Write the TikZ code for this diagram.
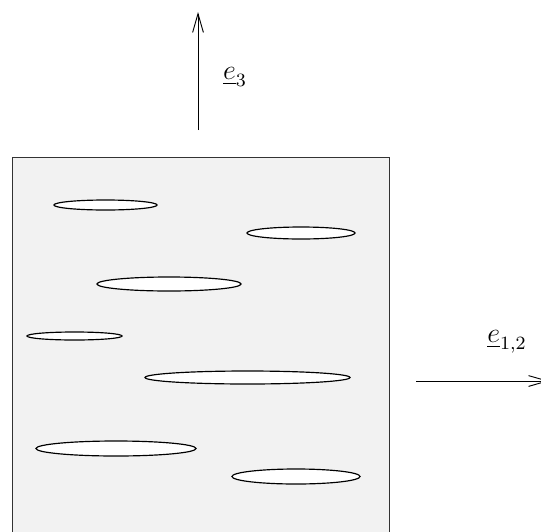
\documentclass[tikz,border=0pt]{standalone}
\usepackage{amsmath,amssymb}
\usepackage{tikz}
\usetikzlibrary{arrows.meta,shapes.geometric}

\begin{document}
\begin{tikzpicture}[
  x=0.015cm, y=-0.015cm,
  slab/.style={draw=black!80, fill=black!5, line width=0.4pt},
  pore/.style={ellipse, draw=black, fill=white, line width=0.5pt,
               inner sep=0pt},
  ar/.style={-{Straight Barb[length=8pt, width=4.6pt]}, draw=black, line width=0.4pt},
  lbl/.style={inner sep=1pt, font=\large}
]
\useasboundingbox (0,0) rectangle (541,531);
\clip (0,0) rectangle (541,531);

% specimen
\draw[slab] (12,157) rectangle (389,560);

% elongated voids
\node[pore, minimum width=1.545cm, minimum height=0.15cm] (p1) at (105.5,205) {};
\node[pore, minimum width=1.62cm, minimum height=0.18cm] (p2) at (301,233) {};
\node[pore, minimum width=2.16cm, minimum height=0.21cm] (p3) at (169,284) {};
\node[pore, minimum width=1.425cm, minimum height=0.12cm] (p4) at (74.5,336) {};
\node[pore, minimum width=3.075cm, minimum height=0.195cm] (p5) at (247.5,377.5) {};
\node[pore, minimum width=2.4cm, minimum height=0.225cm] (p6) at (116,448.5) {};
\node[pore, minimum width=1.92cm, minimum height=0.225cm] (p7) at (296,476.5) {};

% axes
\coordinate (e3a) at (198,130);
\coordinate (e3b) at (198,12);
\coordinate (e12a) at (416,381);
\coordinate (e12b) at (549,381);
\draw[ar] (e3a) -- (e3b);
\draw[ar] (e12a) -- (e12b);
\node[lbl] (e3) at (235,77) {$\underline{e}_3$};
\node[lbl] (e12) at (507,342) {$\underline{e}_{1,2}$};
\end{tikzpicture}
\end{document}
